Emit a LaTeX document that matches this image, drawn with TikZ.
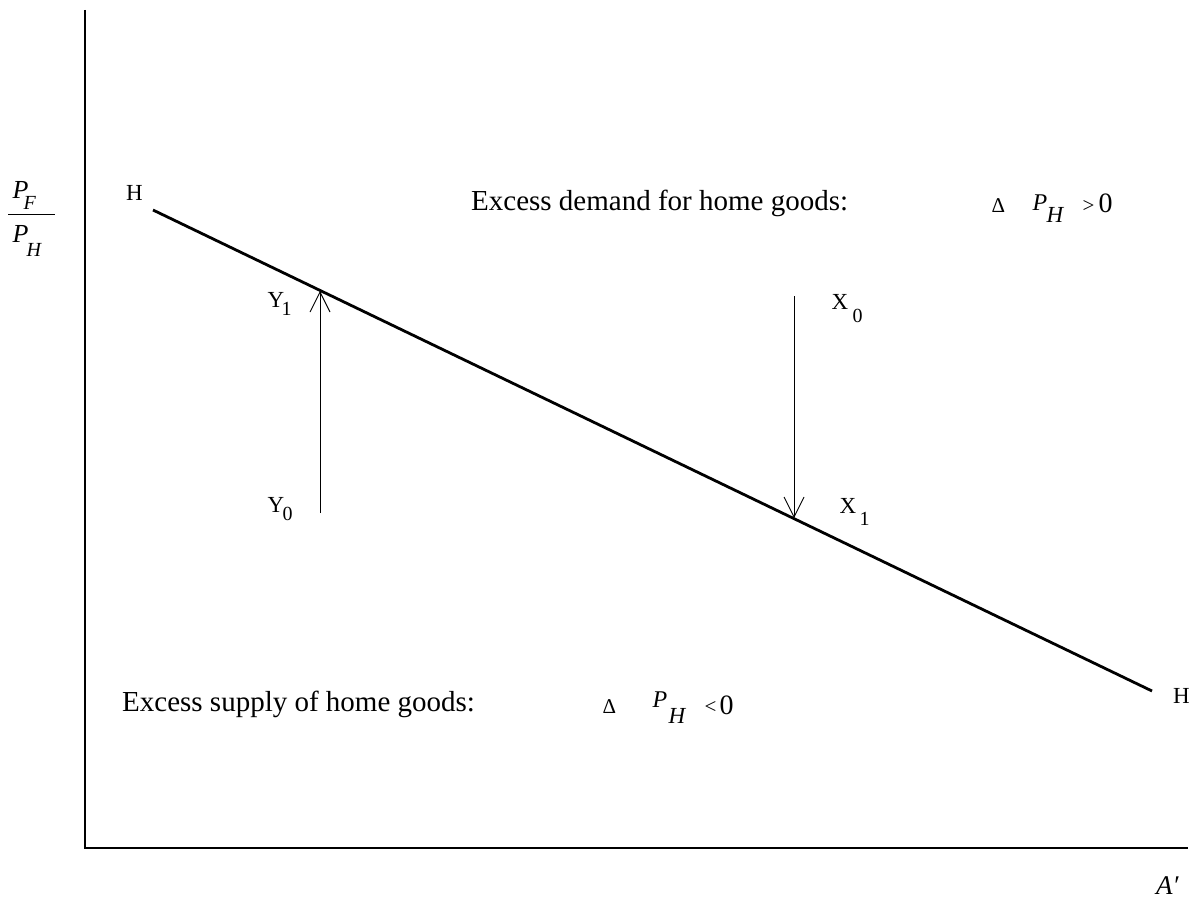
\documentclass[tikz,border=0pt]{standalone}
\usepackage{fontspec}
\setmainfont{Liberation Serif}
\usetikzlibrary{arrows.meta}
\newcommand\setfs[1]{\fontsize{#1}{#1}\selectfont}
\newcommand\piece[3]{\rlap{\hspace*{#1}\raisebox{#2}{#3}}}
\begin{document}
\begin{tikzpicture}[x=1pt,y=-1pt,
  txt/.style={inner sep=0pt, anchor=base west},
  lbl/.style={txt, font=\setfs{23}},
  big/.style={txt, font=\setfs{29}},
  axis/.style={line width=1.1pt},
  curve/.style={line width=2.8pt},
  move/.style={line width=0.9pt, -{Straight Barb[length=20pt,width=20pt,line width=0.9pt]}}
]
\useasboundingbox (0,0) rectangle (1195,899);
% axes
\coordinate (ytop) at (85,10);
\coordinate (origin) at (85,848);
\coordinate (xend) at (1188,848);
\draw[axis] (ytop) -- (origin) -- (xend);
% HH schedule
\coordinate (H0) at (153,210);
\coordinate (H1) at (1152,691);
\draw[curve] (H0) -- (H1);
\node[lbl] (hl) at (126,200) {H};
\node[lbl] (hr) at (1173,703) {H};
% axis labels
\node[txt] (pf) at (12,198) {\piece{0pt}{0pt}{\setfs{26}\itshape P}\piece{11pt}{-11pt}{\setfs{20}\itshape F}};
\coordinate (bar0) at (8,214);
\coordinate (bar1) at (55,214);
\draw[line width=1pt] (bar0) -- (bar1);
\node[txt] (ph) at (12,242) {\piece{0pt}{0pt}{\setfs{26}\itshape P}\piece{14pt}{-14pt}{\setfs{20}\itshape H}};
\node[txt] (ap) at (1156,894) {\setfs{27}\itshape A\symbol{"2032}};
% region texts
\node[big] (ed) at (471,210) {Excess demand for home goods:};
\node[txt] (dpp) at (991,212) {\piece{0pt}{0pt}{\setfs{21}Δ}\piece{41pt}{2pt}{\setfs{24}\itshape P}\piece{55pt}{-10pt}{\setfs{23}\itshape H}\piece{91pt}{0pt}{\setfs{21}>}\piece{107pt}{0pt}{\setfs{28}0}};
\node[big] (es) at (122,711) {Excess supply of home goods:};
\node[txt] (dpm) at (602,713) {\piece{0pt}{0pt}{\setfs{21}Δ}\piece{50pt}{6pt}{\setfs{24}\itshape P}\piece{66pt}{-10pt}{\setfs{23}\itshape H}\piece{102pt}{0pt}{\setfs{21}<}\piece{117pt}{-1pt}{\setfs{28}0}};
% Y movement
\coordinate (ya) at (320,513);
\coordinate (yb) at (320,291);
\draw[move] (ya) -- (yb);
\node[lbl] (y1) at (267,307) {\piece{0pt}{0pt}{Y}\piece{14pt}{-8pt}{\setfs{20}1}};
\node[lbl] (y0) at (267,512) {\piece{0pt}{0pt}{Y}\piece{15pt}{-8pt}{\setfs{20}0}};
% X movement
\coordinate (xa) at (794,296);
\coordinate (xb) at (794,518);
\draw[move] (xa) -- (xb);
\node[lbl] (x0) at (831,309) {\piece{0pt}{0pt}{X}\piece{21pt}{-13pt}{\setfs{20}0}};
\node[lbl] (x1) at (839,513) {\piece{0pt}{0pt}{X}\piece{20pt}{-12pt}{\setfs{20}1}};
\end{tikzpicture}
\end{document}
